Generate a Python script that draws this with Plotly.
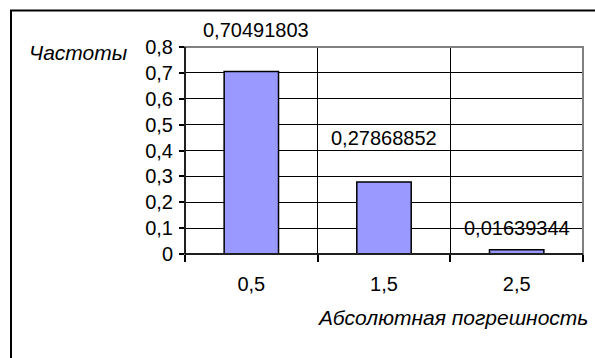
import plotly.graph_objects as go

# Histogram of absolute error frequencies
categories = ["0,5", "1,5", "2,5"]
frequencies = [0.70491803, 0.27868852, 0.01639344]
y_ticks = [0, 0.1, 0.2, 0.3, 0.4, 0.5, 0.6, 0.7, 0.8]
y_title = "Частоты"
x_title = "Абсолютная погрешность"

W, H = 595, 358
L, R, T, B = 185, 12, 47, 104
PW, PH = W - L - R, H - T - B


def px(x):
    return (x - L) / PW


def py(y):
    return (H - B - y) / PH


FONT = "Liberation Sans, Arial, sans-serif"
FS = 20
FS_TITLE = 21

fig = go.Figure(
    go.Bar(
        x=categories,
        y=frequencies,
        marker=dict(color="#9999FF", line=dict(color="black", width=1.5)),
        hoverinfo="skip",
    )
)

# value labels above each bar (pixel offsets from the bar top)
label_shift = [(5, 42), (0, 44), (0, 22)]
for cat, val, (dx, dy) in zip(categories, frequencies, label_shift):
    fig.add_annotation(
        x=cat, y=val, xref="x", yref="y",
        text=f"{val:.8f}".replace(".", ","),
        showarrow=False, xshift=dx, yshift=dy,
        font=dict(family=FONT, size=FS, color="black"),
    )

fig.add_annotation(
    x=px(130), y=py(52), xref="paper", yref="paper",
    xanchor="right", yanchor="middle",
    text=f"<i>{y_title}</i>", showarrow=False,
    font=dict(family=FONT, size=FS_TITLE, color="black"),
)
fig.add_annotation(
    x=px(590), y=py(317), xref="paper", yref="paper",
    xanchor="right", yanchor="middle",
    text=f"<i>{x_title}</i>", showarrow=False,
    font=dict(family=FONT, size=FS_TITLE, color="black"),
)

# plot-area border (grey) and outer chart frame (black)
fig.add_shape(type="rect", xref="paper", yref="paper", x0=0, x1=1, y0=0, y1=1,
              line=dict(color="#808080", width=2), layer="above")
fig.add_shape(type="line", xref="paper", yref="paper", x0=0, x1=0, y0=0, y1=1,
              line=dict(color="black", width=1.5), layer="above")
fig.add_shape(type="line", xref="paper", yref="paper", x0=0, x1=1, y0=0, y1=0,
              line=dict(color="black", width=1.5), layer="above")
fig.add_shape(type="rect", xref="paper", yref="paper",
              x0=px(11), x1=px(640), y0=py(400), y1=py(10.5),
              line=dict(color="black", width=2), layer="above")

fig.update_layout(
    width=W, height=H,
    margin=dict(l=L, r=R, t=T, b=B),
    paper_bgcolor="white", plot_bgcolor="white",
    separators=", ",
    bargap=0.59,
    showlegend=False,
    font=dict(family=FONT, size=FS, color="black"),
)
fig.update_xaxes(
    type="category", tickson="boundaries",
    ticks="outside", ticklen=7, tickcolor="black", tickwidth=1.5,
    showgrid=True, gridcolor="black", gridwidth=1,
    showline=False, zeroline=False,
    ticklabelstandoff=16,
    tickfont=dict(family=FONT, size=FS, color="black"),
)
fig.update_yaxes(
    range=[0, 0.8], tickvals=y_ticks,
    ticks="outside", ticklen=5, tickcolor="black", tickwidth=1.5,
    showgrid=True, gridcolor="black", gridwidth=1,
    showline=False, zeroline=False,
    ticklabelstandoff=2,
    tickfont=dict(family=FONT, size=FS, color="black"),
)

fig.write_html("out.html")
